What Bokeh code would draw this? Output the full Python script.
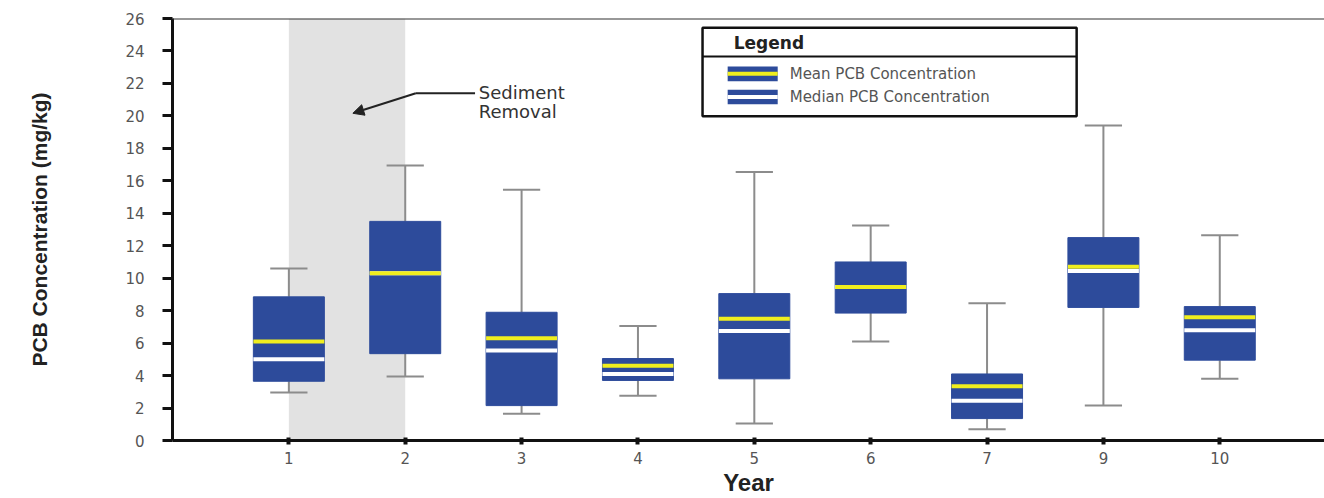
from bokeh.plotting import figure
from bokeh.models import (Range1d, FixedTicker, BoxAnnotation, Label, Span, Arrow,
                          NormalHead, ColumnDataSource)
from bokeh.embed import file_html
from bokeh.resources import INLINE

# ---- data ----
years = ["1", "2", "3", "4", "5", "6", "7", "9", "10"]
whisker_low = [2.95, 3.95, 1.65, 2.75, 1.05, 6.10, 0.70, 2.15, 3.80]
q1 = [3.65, 5.35, 2.15, 3.70, 3.80, 7.85, 1.35, 8.20, 4.95]
median = [5.00, 10.30, 5.55, 4.10, 6.75, 9.45, 2.45, 10.45, 6.80]
mean = [6.10, 10.30, 6.30, 4.60, 7.50, 9.45, 3.35, 10.70, 7.60]
q3 = [8.85, 13.50, 7.90, 5.05, 9.05, 11.00, 4.10, 12.50, 8.25]
whisker_high = [10.60, 16.95, 15.45, 7.05, 16.55, 13.25, 8.45, 19.40, 12.65]
removal_start, removal_end = "1", "2"
y_ticks = list(range(0, 27, 2))

BLUE = "#2d4b9b"
YELLOW = "#f0ee1e"
GREY = "#8c8c8c"
BOX_W = 0.61
CAP_W = 0.32

pos = list(range(len(years)))
src = ColumnDataSource(dict(
    x=pos, lo=whisker_low, q1=q1, med=median, mean=mean, q3=q3, hi=whisker_high,
    xl=[i - BOX_W / 2 for i in pos], xr=[i + BOX_W / 2 for i in pos],
    cl=[i - CAP_W / 2 for i in pos], cr=[i + CAP_W / 2 for i in pos],
))

p = figure(width=1324, height=498, output_backend="svg", toolbar_location=None,
           x_range=Range1d(-1.0, 8.9), y_range=Range1d(0, 26),
           min_border_left=172, min_border_right=0, min_border_top=18, min_border_bottom=57)
p.outline_line_color = None
p.grid.visible = False
p.background_fill_color = "white"

# shaded sediment removal period
p.add_layout(BoxAnnotation(left=years.index(removal_start), right=years.index(removal_end),
                           bottom=0, top=26, fill_color="#e2e2e2", fill_alpha=1.0,
                           line_color=None, level="underlay"))

# top border
p.add_layout(Span(location=26, dimension="width", line_color="#333333", line_width=2))

# whiskers
p.segment(x0="x", y0="lo", x1="x", y1="q1", source=src, line_color=GREY, line_width=2)
p.segment(x0="x", y0="q3", x1="x", y1="hi", source=src, line_color=GREY, line_width=2)
p.segment(x0="cl", y0="lo", x1="cr", y1="lo", source=src, line_color=GREY, line_width=2)
p.segment(x0="cl", y0="hi", x1="cr", y1="hi", source=src, line_color=GREY, line_width=2)

# boxes
p.vbar(x="x", width=BOX_W, bottom="q1", top="q3", source=src,
       fill_color=BLUE, line_color=BLUE, line_width=1)
# median (white) and mean (yellow)
p.segment(x0="xl", y0="med", x1="xr", y1="med", source=src, line_color="white", line_width=4)
p.segment(x0="xl", y0="mean", x1="xr", y1="mean", source=src, line_color=YELLOW, line_width=4)

# axes
xa = p.xaxis[0]
xa.ticker = FixedTicker(ticks=pos)
xa.major_label_overrides = {i: y for i, y in enumerate(years)}
xa.axis_line_width = 3
xa.axis_line_color = "#111111"
xa.major_tick_line_width = 4
xa.major_tick_line_color = "#111111"
xa.major_tick_in = 3
xa.major_tick_out = 4
xa.minor_tick_line_color = None
xa.major_label_text_font = "DejaVu Sans"
xa.major_label_text_font_size = "15px"
xa.major_label_text_color = "#555555"
xa.major_label_standoff = 7
xa.axis_label = "Year"
xa.axis_label_text_font = "Liberation Sans"
xa.axis_label_text_font_style = "bold"
xa.axis_label_text_font_size = "24px"
xa.axis_label_text_color = "#222222"
xa.axis_label_standoff = 2

ya = p.yaxis[0]
ya.ticker = FixedTicker(ticks=y_ticks)
ya.axis_line_width = 3
ya.axis_line_color = "#111111"
ya.major_tick_line_width = 3
ya.major_tick_line_color = "#111111"
ya.major_tick_in = 0
ya.major_tick_out = 10
ya.minor_tick_line_color = None
ya.major_label_text_font = "DejaVu Sans"
ya.major_label_text_font_size = "15px"
ya.major_label_text_color = "#555555"
ya.major_label_standoff = 18
ya.axis_label = "PCB Concentration (mg/kg)"
ya.axis_label_text_font = "Liberation Sans"
ya.axis_label_text_font_style = "bold"
ya.axis_label_text_font_size = "21px"
ya.axis_label_text_color = "#222222"
ya.axis_label_standoff = 71

# annotation: Sediment Removal
p.add_layout(Label(x=1.632, y=21.45, text="Sediment", text_font="DejaVu Sans",
                   text_font_size="18px", text_color="#333333", text_baseline="middle"))
p.add_layout(Label(x=1.632, y=20.28, text="Removal", text_font="DejaVu Sans",
                   text_font_size="18px", text_color="#333333", text_baseline="middle"))
p.segment(x0=[1.60], y0=[21.39], x1=[1.091], y1=[21.39], line_color="#222222", line_width=2)
p.add_layout(Arrow(x_start=1.091, y_start=21.39, x_end=0.55, y_end=20.16,
                   line_color="#222222", line_width=2,
                   end=NormalHead(size=11, fill_color="#222222", line_color="#222222")))

# legend box (drawn with glyphs so the layering is in order)
p.quad(left=[3.555], right=[6.77], bottom=[19.98], top=[25.43],
       fill_color="white", line_color="#111111", line_width=2.5)
p.segment(x0=[3.555], y0=[23.66], x1=[6.77], y1=[23.66], line_color="#111111", line_width=2)
p.add_layout(Label(x=3.823, y=24.48, text="Legend", text_font="DejaVu Sans",
                   text_font_style="bold", text_font_size="17px", text_color="#222222",
                   text_baseline="middle"))
for yc, stripe, txt in [(22.59, YELLOW, "Mean PCB Concentration"),
                        (21.16, "white", "Median PCB Concentration")]:
    p.quad(left=[3.771], right=[4.201], bottom=[yc - 0.45], top=[yc + 0.45],
           fill_color=BLUE, line_color=None)
    p.segment(x0=[3.771], y0=[yc], x1=[4.201], y1=[yc], line_color=stripe, line_width=4)
    p.add_layout(Label(x=4.304, y=yc, text=txt, text_font="DejaVu Sans",
                       text_font_size="15px", text_color="#555555", text_baseline="middle"))

open("out.html", "w").write(file_html(p, INLINE))
